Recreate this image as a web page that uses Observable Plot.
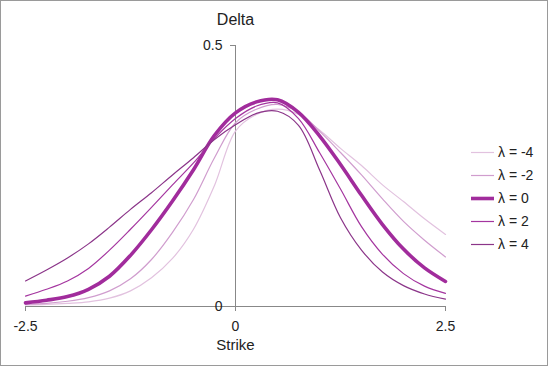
<!DOCTYPE html>
<html>
<head>
<meta charset="utf-8">
<script src="https://cdn.jsdelivr.net/npm/d3@7"></script>
<script src="https://cdn.jsdelivr.net/npm/@observablehq/plot@0.6"></script>
<style>
  html, body { margin: 0; padding: 0; background: #fff; }
  #wrap { position: relative; width: 548px; height: 366px; font-family: "Liberation Sans", Arial, sans-serif; }
  #wrap svg { display: block; outline: 1px solid #9a9a9a; outline-offset: -1px; }
  #legend { position: absolute; left: 471px; top: 141px; }
  .row { position: absolute; left: 0; height: 23px; white-space: nowrap; font-size: 14px; color: #222; }
  .row svg { outline: none !important; position: absolute; left: 0; top: 0; }
  .row span { position: absolute; left: 27px; top: 3px; }
</style>
</head>
<body>
<div id="wrap"></div>
<script>
const strikes = [-2.5, -2.25, -2, -1.75, -1.5, -1.25, -1, -0.75, -0.5, -0.25, 0, 0.25, 0.5, 0.75, 1, 1.25, 1.5, 1.75, 2, 2.25, 2.5];
const deltaLamM4 = [0.003, 0.004, 0.006, 0.009, 0.016, 0.030, 0.055, 0.092, 0.148, 0.232, 0.336, 0.368, 0.378, 0.368, 0.338, 0.303, 0.270, 0.233, 0.201, 0.168, 0.138];
const deltaLamM2 = [0.004, 0.006, 0.010, 0.017, 0.030, 0.053, 0.090, 0.142, 0.205, 0.285, 0.352, 0.378, 0.387, 0.372, 0.336, 0.295, 0.252, 0.206, 0.163, 0.127, 0.095];
const deltaLam0  = [0.007, 0.012, 0.019, 0.033, 0.058, 0.098, 0.147, 0.202, 0.262, 0.328, 0.371, 0.392, 0.396, 0.372, 0.327, 0.272, 0.213, 0.157, 0.110, 0.074, 0.048];
const deltaLamP2 = [0.020, 0.033, 0.049, 0.073, 0.108, 0.148, 0.190, 0.233, 0.275, 0.322, 0.360, 0.384, 0.390, 0.360, 0.295, 0.225, 0.153, 0.100, 0.063, 0.039, 0.025];
const deltaLamP4 = [0.049, 0.070, 0.093, 0.120, 0.152, 0.186, 0.218, 0.252, 0.285, 0.320, 0.348, 0.370, 0.374, 0.347, 0.262, 0.170, 0.108, 0.066, 0.040, 0.024, 0.014];

const seriesNames = ["λ = -4", "λ = -2", "λ = 0", "λ = 2", "λ = 4"];
const seriesValues = [deltaLamM4, deltaLamM2, deltaLam0, deltaLamP2, deltaLamP4];
const seriesColors = ["#e2c2df", "#d09dce", "#a12c9c", "#a4359f", "#8b3589"];
const seriesWidths = [1.2, 1.2, 3.6, 1.2, 1.2];

const xTicks = [-2.5, 0, 2.5];
const yTicks = [0, 0.5];
const title = "Delta";
const xLabel = "Strike";

const rows = [];
seriesNames.forEach((name, s) => {
  strikes.forEach((k, i) => rows.push({series: name, strike: k, delta: seriesValues[s][i]}));
});

const axisColor = "#888";
const textColor = "#222";

const lineMarks = seriesNames.map((name, s) =>
  Plot.line(rows.filter(r => r.series === name), {
    x: "strike", y: "delta",
    stroke: seriesColors[s], strokeWidth: seriesWidths[s],
    curve: "catmull-rom"
  })
);

const chart = Plot.plot({
  width: 548,
  height: 366,
  marginLeft: 25,
  marginRight: 103,
  marginTop: 45,
  marginBottom: 60,
  style: {fontFamily: "'Liberation Sans', Arial, sans-serif", background: "#fff"},
  x: {domain: [-2.5, 2.5], axis: null},
  y: {domain: [0, 0.5], axis: null},
  marks: [
    Plot.ruleY([0], {stroke: axisColor, strokeWidth: 1}),
    Plot.ruleX([0], {y1: 0, y2: 0.5, stroke: axisColor, strokeWidth: 1}),
    Plot.ruleX(xTicks, {x: d => d, y1: 0, y2: 0, insetBottom: -5, stroke: axisColor}),
    Plot.ruleY(yTicks, {y: d => d, x1: 0, x2: 0, insetLeft: -5, stroke: axisColor}),
    ...lineMarks,
    Plot.text(xTicks, {x: d => d, y: 0, dy: 20, text: d => String(d), fontSize: 14, fill: textColor}),
    Plot.text(yTicks, {x: 0, y: d => d, dx: -13, text: d => String(d), textAnchor: "end", fontSize: 14, fill: textColor}),
    Plot.text([title], {frameAnchor: "top", lineAnchor: "middle", dy: -26, fontSize: 16, fill: textColor}),
    Plot.text([xLabel], {frameAnchor: "bottom", lineAnchor: "middle", dy: 39, fontSize: 15, fill: textColor})
  ]
});

const wrap = document.getElementById("wrap");
wrap.appendChild(chart);

const legend = document.createElement("div");
legend.id = "legend";
seriesNames.forEach((name, s) => {
  const row = document.createElement("div");
  row.className = "row";
  row.style.top = (s * 23) + "px";
  row.innerHTML = `<svg width="24" height="23"><line x1="0" x2="23" y1="11.5" y2="11.5" stroke="${seriesColors[s]}" stroke-width="${seriesWidths[s]}"/></svg><span>${name}</span>`;
  legend.appendChild(row);
});
wrap.appendChild(legend);
</script>
</body>
</html>
